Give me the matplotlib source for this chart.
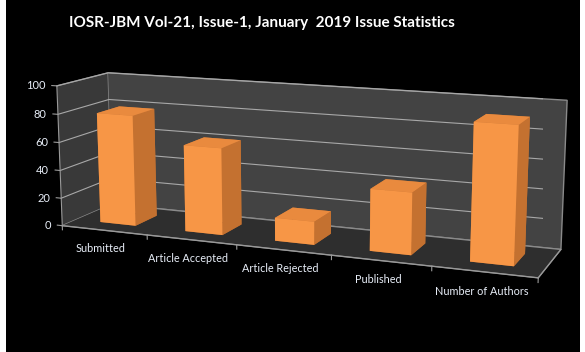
import numpy as np
import matplotlib
matplotlib.use("Agg")
import matplotlib.pyplot as plt
from matplotlib.patches import Rectangle
from mpl_toolkits.mplot3d import proj3d

# chart data
categories = ["Submitted", "Article Accepted", "Article Rejected", "Published", "Number of Authors"]
values = [79, 61, 16, 42, 91]
zticks = [0, 20, 40, 60, 80, 100]

title = "IOSR-JBM Vol-21, Issue-1, January  2019 Issue Statistics"

plt.rcParams['font.family'] = ['Lato', 'DejaVu Sans']

fig = plt.figure(figsize=(5.85, 3.52), dpi=100)
fig.patch.set_facecolor("white")
fig.patches.append(Rectangle((6 / 585, 0), 574 / 585, 1, transform=fig.transFigure,
                             facecolor="black", edgecolor="none", zorder=-10))

ax = fig.add_axes([-0.093, -0.19, 1.2, 1.4], projection="3d")
ax.set_facecolor((0, 0, 0, 0))
ax.set_proj_type("persp", focal_length=0.5)
ax.view_init(elev=12, azim=-68)
ax.set_box_aspect((5.1, 1.05, 1.5), zoom=1.05)

x = np.arange(len(categories))
w = 0.42
d = 0.45
orange = "#F79646"
face_cols = []
for v in values:
    # bottom, top, front, back, left, right
    face_cols += ["#B86A2E", "#E98A3E", orange, "#C87535", "#C87535", "#C47130"]
ax.bar3d(x - w / 2, np.full(len(x), 0.5 - d / 2), np.zeros(len(x)), w, d, values,
         color=face_cols, shade=False, edgecolor="none")

xmin, xmax = -0.5, len(categories) - 0.5
ax.set_xlim(xmin, xmax)
ax.set_ylim(0, 1)
ax.set_zlim(0, 100)

ax.set_xticks(x)
ax.set_xticklabels(categories)
ax.set_yticks([])
ax.set_zticks([])

for a in (ax.xaxis, ax.yaxis, ax.zaxis):
    a.set_tick_params(colors="#E8EEF8", labelsize=7.8)
    a.line.set_color("#9A9A9A")
    a._axinfo["tick"]["inward_factor"] = 0.0
    a._axinfo["tick"]["outward_factor"] = 0.0
    a._axinfo["grid"]["color"] = (0, 0, 0, 0)
ax.xaxis.set_tick_params(pad=6)
ax.zaxis.line.set_color((0, 0, 0, 0))

ax.xaxis.set_pane_color("#393939")
ax.yaxis.set_pane_color("#434343")
ax.zaxis.set_pane_color("#2E2E2E")
for a in (ax.xaxis, ax.yaxis, ax.zaxis):
    a.pane.set_edgecolor("#8A8A8A")

# gridlines on the left and back walls
for t in zticks[1:]:
    ax.plot([xmin, xmin, xmax], [0, 1, 1], [t, t, t], color="#A8A8A8", lw=0.8, zorder=0)

# tick marks between categories on the front edge
for b in np.arange(xmin, xmax + 0.5):
    ax.plot([b, b], [0, 0], [0, -3], color="#9A9A9A", lw=0.8)

# value axis on the left front edge
ax.plot([xmin, xmin], [0, 0], [0, 100], color="#9A9A9A", lw=0.8)
fig.canvas.draw()
M = ax.get_proj()
for t in zticks:
    ax.plot([xmin, xmin - 0.06], [0, 0], [t, t], color="#9A9A9A", lw=0.8)
    px, py, _ = proj3d.proj_transform(xmin, 0, t, M)
    ax.annotate(str(t), xy=(px, py), xycoords="data", xytext=(-8, 0),
                textcoords="offset points", color="#E8EEF8", fontsize=8,
                ha="right", va="center")

fig.text(0.448, 0.935, title, ha="center", va="center", color="white",
         fontsize=11, fontweight="bold")

fig.savefig("out.png", dpi=100, facecolor=fig.get_facecolor())
